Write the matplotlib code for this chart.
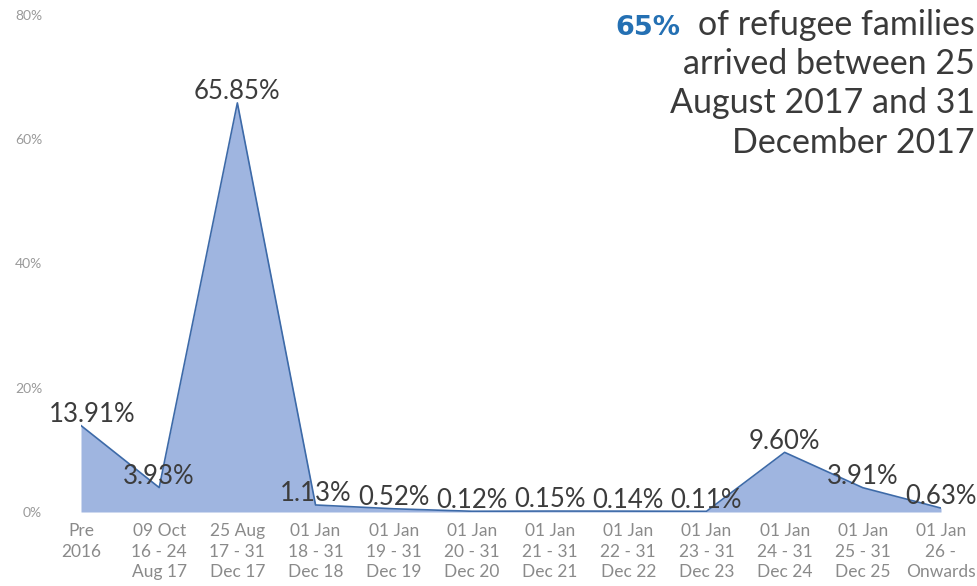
import matplotlib
matplotlib.use("Agg")
import matplotlib.pyplot as plt
import numpy as np

plt.rcParams['font.family'] = ['Lato', 'DejaVu Sans']

periods = ["Pre\n2016", "09 Oct\n16 - 24\nAug 17", "25 Aug\n17 - 31\nDec 17",
           "01 Jan\n18 - 31\nDec 18", "01 Jan\n19 - 31\nDec 19", "01 Jan\n20 - 31\nDec 20",
           "01 Jan\n21 - 31\nDec 21", "01 Jan\n22 - 31\nDec 22", "01 Jan\n23 - 31\nDec 23",
           "01 Jan\n24 - 31\nDec 24", "01 Jan\n25 - 31\nDec 25", "01 Jan\n26 -\nOnwards"]
share = [13.91, 3.93, 65.85, 1.13, 0.52, 0.12, 0.15, 0.14, 0.11, 9.60, 3.91, 0.63]
yticks = [0, 20, 40, 60, 80]

fill_c = "#9fb5e0"
line_c = "#3d6aa8"
grey = "#8a8a8a"

fig = plt.figure(figsize=(9.78, 5.86), dpi=100)
ax = fig.add_axes([81 / 978, (586 - 512) / 586, (941 - 81) / 978, (512 - 15) / 586])

x = np.arange(len(share))
ax.fill_between(x, share, color=fill_c, linewidth=0)
ax.plot(x, share, color=line_c, linewidth=1.2)

for xi, v in zip(x, share):
    dx = 8 if xi == 0 else 0
    ax.annotate(f"{v:.2f}%", (xi, v), xytext=(dx, -1), textcoords="offset points",
                ha="center", va="bottom", fontsize=18.5, color="#3c3c3c")

ax.set_xlim(0, len(share) - 1)
ax.set_ylim(0, 80)
ax.set_yticks(yticks)
ax.set_yticklabels([f"{t}%" for t in yticks], fontsize=10, color="#9a9a9a")
ax.set_xticks(x)
ax.set_xticklabels(periods, fontsize=12.5, color=grey, linespacing=1.35)
ax.tick_params(length=0)
ax.tick_params(axis="y", pad=28)
ax.tick_params(axis="x", pad=8)
for s in ax.spines.values():
    s.set_visible(False)

# headline text, top right
lines = ["of refugee families", "arrived between 25", "August 2017 and 31", "December 2017"]
tops = [25, 64, 103, 143]
first = None
for ln, y in zip(lines, tops):
    t = fig.text(975 / 978, 1 - y / 586, ln, ha="right", va="center", fontsize=24.5, color="#3a3a3a")
    if first is None:
        first = t
fig.canvas.draw()
bb = first.get_window_extent(fig.canvas.get_renderer())
fig.text((bb.x0 - 18) / 978, 1 - 28 / 586, "65%", ha="right", va="center",
         fontsize=19.5, fontweight="bold", family="DejaVu Sans", color="#2470b3")

fig.savefig("out.png", dpi=100)
